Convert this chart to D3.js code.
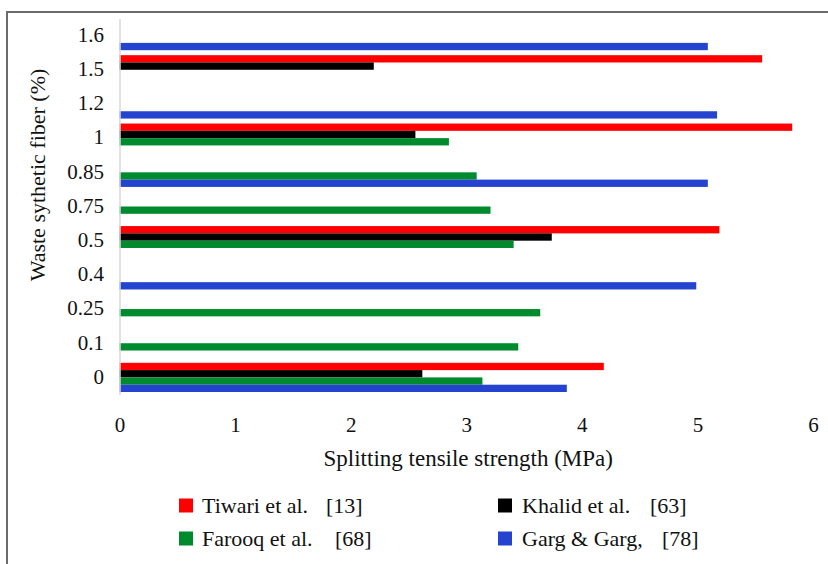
<!DOCTYPE html>
<html>
<head>
<meta charset="utf-8">
<script src="https://cdn.jsdelivr.net/npm/d3@7"></script>
<style>
  html, body { margin: 0; padding: 0; background: #fff; }
  svg { display: block; }
</style>
</head>
<body>
<svg id="chart" width="828" height="564"></svg>
<script>
// ---- data ----
const categories = ["0", "0.1", "0.25", "0.4", "0.5", "0.75", "0.85", "1", "1.2", "1.5", "1.6"];
const seriesNames = ["Tiwari et al.", "Khalid et al.", "Farooq et al.", "Garg & Garg,"];
const seriesRefs = ["[13]", "[63]", "[68]", "[78]"];
const seriesColors = ["#ff0000", "#000000", "#008a2e", "#2443cf"];
// values per category (null = no bar)
const tiwari = [4.19, null, null, null, 5.19, null, null, 5.82, null, 5.56, null];
const khalid = [2.62, null, null, null, 3.74, null, null, 2.56, null, 2.20, null];
const farooq = [3.14, 3.45, 3.64, null, 3.41, 3.21, 3.09, 2.85, null, null, null];
const garg   = [3.87, null, null, 4.99, null, null, 5.09, null, 5.17, null, 5.09];
const xTicks = [0, 1, 2, 3, 4, 5, 6];
const xTitle = "Splitting tensile strength (MPa)";
const yTitle = "Waste sythetic fiber (%)";

const seriesValues = [tiwari, khalid, farooq, garg];

const svg = d3.select("#chart");
const font = "'Liberation Serif', 'Times New Roman', serif";
const textColor = "#111";

// outer frame (extends past right and bottom edges)
svg.append("rect")
  .attr("x", 7).attr("y", 12)
  .attr("width", 900).attr("height", 700)
  .attr("fill", "none").attr("stroke", "#6b6b6b").attr("stroke-width", 2);

const x = d3.scaleLinear().domain([0, 6]).range([119.5, 813]);
const y = d3.scaleBand().domain(categories).range([394.5, 18.5])
  .paddingInner(0.146).paddingOuter(0.073);
const ySub = d3.scaleBand().domain(seriesNames).range([0, y.bandwidth()]);

// bars
const barData = [];
seriesNames.forEach((s, si) => {
  categories.forEach((c, ci) => {
    const v = seriesValues[si][ci];
    if (v != null) barData.push({ s, si, c, v });
  });
});
svg.append("g").selectAll("rect").data(barData).join("rect")
  .attr("x", x(0))
  .attr("y", d => y(d.c) + ySub(d.s))
  .attr("width", d => x(d.v) - x(0))
  .attr("height", ySub.bandwidth())
  .attr("fill", d => seriesColors[d.si]);

// y axis
const yAxis = svg.append("g").attr("transform", `translate(${x(0)},0)`)
  .call(d3.axisLeft(y).tickSize(0).tickSizeOuter(0).tickPadding(15));
yAxis.select(".domain").attr("stroke", "#d9d9d9").attr("stroke-width", 1.5);
yAxis.selectAll("text")
  .attr("font-family", font).attr("font-size", 21).attr("fill", textColor)
  .attr("x", 104 - x(0)).attr("dy", "0.3em");

// x axis
const xAxis = svg.append("g").attr("transform", `translate(0,394.5)`)
  .call(d3.axisBottom(x).tickValues(xTicks).tickFormat(d3.format("d")).tickSize(0));
xAxis.select(".domain").remove();
xAxis.selectAll("text")
  .attr("font-family", font).attr("font-size", 21).attr("fill", textColor)
  .attr("y", 37.5).attr("dy", 0);

// axis titles
svg.append("text")
  .attr("x", (x(0) + x(6)) / 2 + 2).attr("y", 466)
  .attr("text-anchor", "middle")
  .attr("font-family", font).attr("font-size", 23).attr("fill", textColor)
  .text(xTitle);

svg.append("text")
  .attr("transform", "translate(45,175) rotate(-90)")
  .attr("text-anchor", "middle")
  .attr("font-family", font).attr("font-size", 22).attr("fill", textColor)
  .text(yTitle);

// legend
const legendPos = [
  { sx: 179, tx: 202, rx: 326, cy: 505.5 },
  { sx: 498, tx: 522, rx: 650, cy: 505.5 },
  { sx: 179, tx: 202, rx: 335, cy: 538.5 },
  { sx: 498, tx: 522, rx: 662, cy: 538.5 }
];
const leg = svg.append("g").selectAll("g").data(seriesNames).join("g");
leg.append("rect")
  .attr("x", (d, i) => legendPos[i].sx)
  .attr("y", (d, i) => legendPos[i].cy - 7)
  .attr("width", 14).attr("height", 14)
  .attr("fill", (d, i) => seriesColors[i]);
leg.append("text")
  .attr("x", (d, i) => legendPos[i].tx)
  .attr("y", (d, i) => legendPos[i].cy + 7.5)
  .attr("font-family", font).attr("font-size", 22).attr("fill", textColor)
  .text(d => d);
leg.append("text")
  .attr("x", (d, i) => legendPos[i].rx)
  .attr("y", (d, i) => legendPos[i].cy + 7.5)
  .attr("font-family", font).attr("font-size", 22).attr("fill", textColor)
  .text((d, i) => seriesRefs[i]);
</script>
</body>
</html>
